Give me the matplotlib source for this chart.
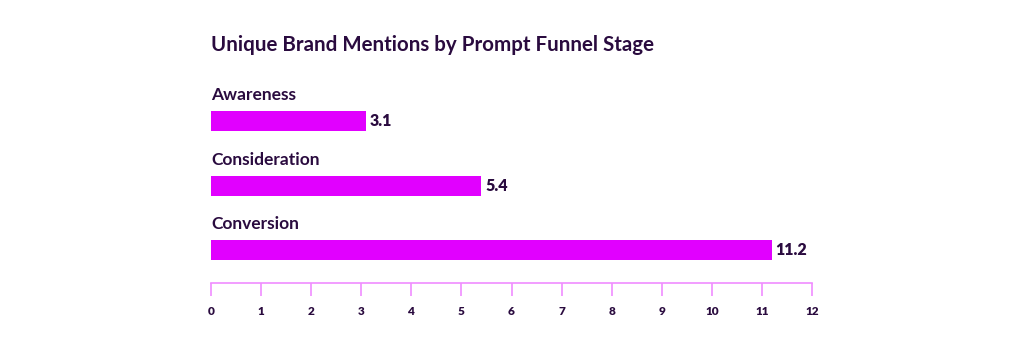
import matplotlib.pyplot as plt

stages = ['Awareness', 'Consideration', 'Conversion']
mentions = [3.1, 5.4, 11.2]
x_ticks = list(range(0, 13))

bar_color = '#E100FF'
text_color = '#2A0B3F'
axis_color = '#F08CFF'

plt.rcParams['font.family'] = ['Lato', 'DejaVu Sans']

fig = plt.figure(figsize=(10.24, 3.53), dpi=100)
W, H = 1024, 353
# axes from x=211..812 px, y=80..283 px
ax = fig.add_axes([211 / W, 1 - 283 / H, (812 - 211) / W, (283 - 80) / H])

pos = list(range(len(stages)))
ax.barh(pos, mentions, height=0.31, color=bar_color)

for p, name, v in zip(pos, stages, mentions):
    ax.text(0, p - 0.40, name, ha='left', va='center', fontsize=12.5,
            fontweight='bold', color=text_color)
    ax.text(v + 0.07, p, f'{v}', ha='left', va='center', fontsize=11.5,
            fontweight='heavy', color=text_color)

ax.set_xlim(0, 12)
ax.set_ylim(2.51, -0.64)
ax.set_xticks(x_ticks)
ax.set_yticks([])
for s in ['top', 'right', 'left']:
    ax.spines[s].set_visible(False)
ax.spines['bottom'].set_color(axis_color)
ax.spines['bottom'].set_linewidth(1.2)
ax.tick_params(axis='x', direction='out', length=9.5, width=1.2,
               color=axis_color, pad=7, labelsize=8.5, labelcolor=text_color)
for lbl in ax.get_xticklabels():
    lbl.set_fontweight('heavy')

fig.text(211 / W, 1 - 45 / H, 'Unique Brand Mentions by Prompt Funnel Stage',
         ha='left', va='center', fontsize=14.8, fontweight='bold',
         color=text_color)

fig.savefig('out.png', dpi=100)
